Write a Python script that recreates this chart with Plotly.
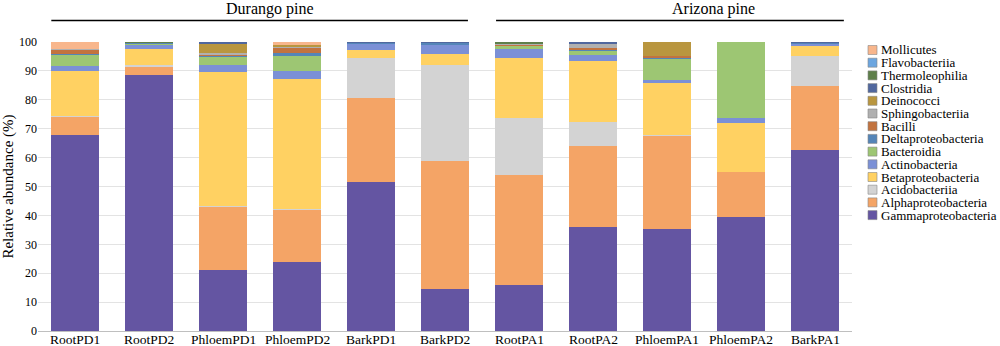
import plotly.graph_objects as go

samples = ["RootPD1", "RootPD2", "PhloemPD1", "PhloemPD2", "BarkPD1", "BarkPD2",
           "RootPA1", "RootPA2", "PhloemPA1", "PhloemPA2", "BarkPA1"]

# stacking order: bottom -> top
gammaproteobacteria = [67.7, 88.5, 21.0, 23.9, 51.5, 14.5, 15.9, 36.0, 35.3, 39.5, 62.6]
alphaproteobacteria = [6.5, 3.0, 22.0, 18.0, 29.0, 44.3, 38.1, 28.0, 32.2, 15.5, 22.2]
acidobacteriia      = [0.3, 0.4, 0.3, 0.3, 14.0, 33.2, 19.7, 8.2, 0.4, 0.0, 10.5]
betaproteobacteria  = [15.5, 5.7, 46.4, 44.9, 2.8, 3.7, 20.9, 21.3, 17.9, 17.0, 3.3]
actinobacteria      = [1.6, 1.4, 2.5, 3.0, 2.2, 3.5, 3.1, 2.0, 0.9, 1.6, 1.0]
bacteroidia         = [4.2, 0.6, 2.7, 5.1, 0.1, 0.1, 1.0, 1.7, 7.4, 26.4, 0.0]
deltaproteobacteria = [0.2, 0.1, 0.6, 1.0, 0.2, 0.5, 0.2, 0.1, 0.7, 0.0, 0.1]
bacilli             = [1.3, 0.0, 0.1, 1.8, 0.0, 0.0, 0.2, 0.5, 0.3, 0.0, 0.0]
sphingobacteriia    = [0.2, 0.1, 0.5, 0.2, 0.0, 0.0, 0.3, 1.7, 0.0, 0.0, 0.0]
deinococci          = [0.0, 0.1, 3.4, 0.9, 0.0, 0.0, 0.0, 0.0, 4.9, 0.0, 0.0]
clostridia          = [0.0, 0.0, 0.5, 0.0, 0.2, 0.2, 0.1, 0.5, 0.0, 0.0, 0.3]
thermoleophilia     = [0.0, 0.1, 0.0, 0.0, 0.0, 0.0, 0.5, 0.0, 0.0, 0.0, 0.0]
flavobacteriia      = [0.0, 0.0, 0.0, 0.0, 0.0, 0.0, 0.0, 0.0, 0.0, 0.0, 0.0]
mollicutes          = [2.5, 0.0, 0.0, 0.9, 0.0, 0.0, 0.0, 0.0, 0.0, 0.0, 0.0]

series = [
    ("Gammaproteobacteria", gammaproteobacteria, "#6455A2"),
    ("Alphaproteobacteria", alphaproteobacteria, "#F4A466"),
    ("Acidobacteriia", acidobacteriia, "#D3D3D3"),
    ("Betaproteobacteria", betaproteobacteria, "#FFD162"),
    ("Actinobacteria", actinobacteria, "#7B90D6"),
    ("Bacteroidia", bacteroidia, "#9DC673"),
    ("Deltaproteobacteria", deltaproteobacteria, "#5485B8"),
    ("Bacilli", bacilli, "#C2733F"),
    ("Sphingobacteriia", sphingobacteriia, "#B0B0B0"),
    ("Deinococci", deinococci, "#B9963F"),
    ("Clostridia", clostridia, "#50679E"),
    ("Thermoleophilia", thermoleophilia, "#5E7F4A"),
    ("Flavobacteriia", flavobacteriia, "#6CA6E0"),
    ("Mollicutes", mollicutes, "#F8B68C"),
]

# group label, bracket start/end (in category units), label centre
groups = [("Durango pine", -0.32, 5.31, 2.64), ("Arizona pine", 5.69, 10.39, 8.63)]

FONT = "Liberation Serif"

fig = go.Figure()
for name, vals, col in series:
    fig.add_trace(go.Bar(x=samples, y=vals, name=name, marker_color=col,
                         marker_line_width=0, showlegend=False, width=0.65))

FW, FH = 1000, 346
# plot area in window pixels
PL, PR, PT, PB = 38, 852, 42, 331
L, R, T, B = PL, FW - PR, PT, FH - PB
W, H = PR - PL, PB - PT


def px(xp):  # window px -> paper
    return (xp - PL) / W


def py(yp):  # window px -> paper
    return (PB - yp) / H


shapes = []
annotations = []
# group headers
for label, x0, x1, xc in groups:
    shapes.append(dict(type="line", xref="x", yref="paper", x0=x0, x1=x1,
                       y0=py(20.5), y1=py(20.5), line=dict(color="black", width=1.5)))
    annotations.append(dict(text=label, xref="x", yref="paper", x=xc,
                            y=py(9.5), yanchor="middle", showarrow=False, borderpad=0,
                            font=dict(family=FONT, size=16, color="black")))

# category labels (drawn tight under the axis)
for s in samples:
    annotations.append(dict(text=s, xref="x", yref="paper", x=s, y=py(331),
                            yanchor="top", showarrow=False, borderpad=0,
                            font=dict(family=FONT, size=13.5, color="black")))

# custom legend (top -> bottom, reversed stacking)
step = 12.7
for i, (name, vals, col) in enumerate(reversed(series)):
    cy = 50 + i * step
    shapes.append(dict(type="rect", xref="paper", yref="paper",
                       x0=px(868), x1=px(877), y0=py(cy + 4.5), y1=py(cy - 4.5),
                       fillcolor=col, line=dict(color="#888888", width=0.6)))
    annotations.append(dict(text=name, xref="paper", yref="paper", x=px(880), y=py(cy),
                            xanchor="left", yanchor="middle", showarrow=False,
                            borderpad=0,
                            font=dict(family=FONT, size=13, color="black")))

fig.update_layout(
    barmode="stack",
    width=FW, height=FH,
    margin=dict(l=L, r=R, t=T, b=B, autoexpand=False),
    plot_bgcolor="white", paper_bgcolor="white",
    font=dict(family=FONT, size=13, color="black"),
    shapes=shapes, annotations=annotations,
)
fig.update_xaxes(showline=True, linecolor="#BFBFBF", linewidth=1, ticks="",
                 showticklabels=False,
                 automargin=False, range=[-0.5, 10.5])
fig.update_yaxes(range=[0, 100], dtick=10, showgrid=True, gridcolor="#E3E3E3",
                 ticks="", zeroline=False,
                 tickfont=dict(family=FONT, size=12, color="black"),
                 title=dict(text="Relative abundance (%)", standoff=6,
                            font=dict(family=FONT, size=15, color="black")),
                 automargin=False)

fig.write_html("out.html",
               config={"displayModeBar": False},
               post_script="document.body.style.margin='0';document.body.style.padding='0';")
